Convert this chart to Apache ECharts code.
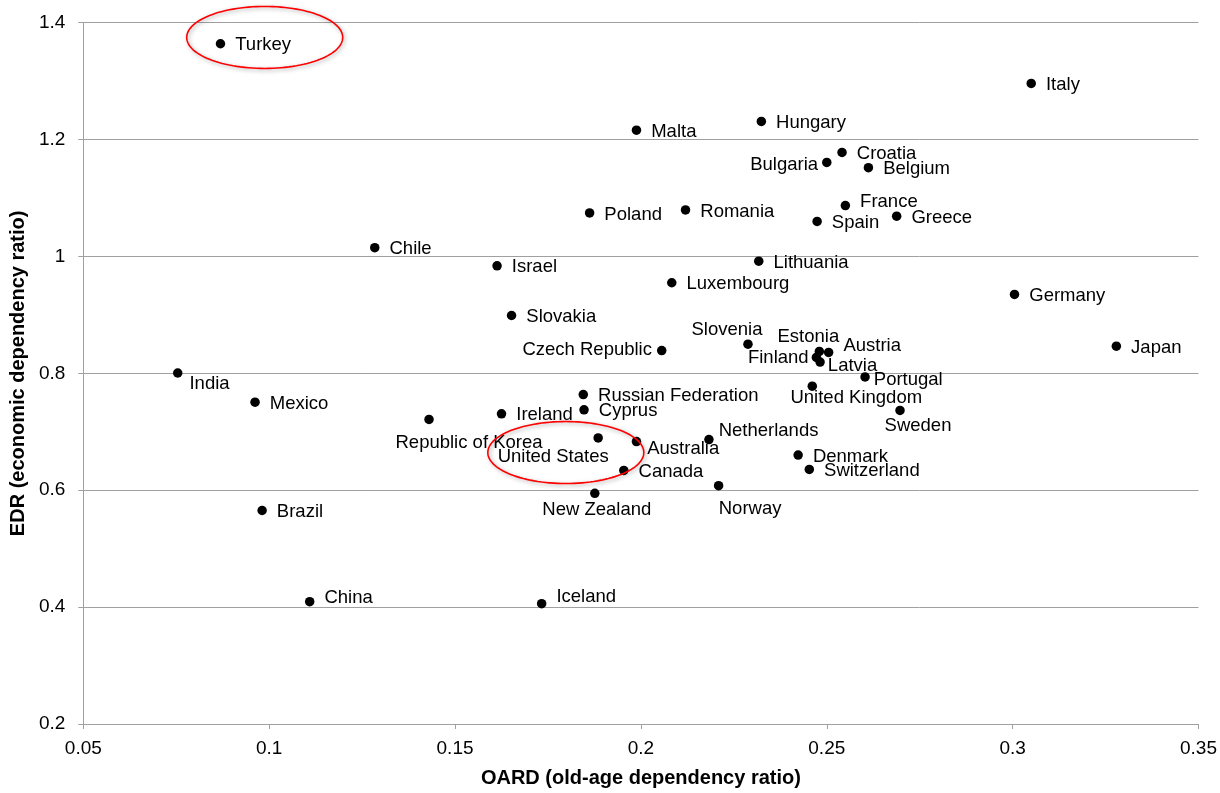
<!DOCTYPE html>
<html>
<head>
<meta charset="utf-8">
<script src="https://cdn.jsdelivr.net/npm/echarts@6/dist/echarts.min.js"></script>
<style>
html,body{margin:0;padding:0;background:#fff;overflow:hidden;width:1220px;height:793px;}
#chart{position:absolute;left:0;top:0;width:1220px;height:793px;}
</style>
</head>
<body>
<div id="chart"></div>
<script>
// ---- Data ----
const countries = ["Turkey","Italy","Malta","Hungary","Croatia","Bulgaria","Belgium","France","Spain","Greece",
  "Poland","Romania","Chile","Israel","Lithuania","Luxembourg","Germany","Slovakia","Czech Republic","Slovenia",
  "Estonia","Austria","Finland","Latvia","Japan","India","Portugal","United Kingdom","Sweden","Mexico",
  "Russian Federation","Cyprus","Ireland","Republic of Korea","United States","Australia","Netherlands","Canada",
  "New Zealand","Norway","Denmark","Switzerland","Brazil","China","Iceland"];
const oard = [0.0869,0.3050,0.1988,0.2324,0.2541,0.2500,0.2612,0.2550,0.2474,0.2688,
  0.1862,0.2120,0.1284,0.1613,0.2317,0.2083,0.3005,0.1652,0.2056,0.2288,
  0.2480,0.2505,0.2472,0.2482,0.3279,0.0754,0.2603,0.2461,0.2697,0.0962,
  0.1845,0.1847,0.1625,0.1430,0.1885,0.1988,0.2183,0.1954,
  0.1876,0.2209,0.2423,0.2453,0.0981,0.1109,0.1733];
const edr = [1.364,1.296,1.216,1.231,1.178,1.161,1.152,1.087,1.060,1.069,
  1.0745,1.0796,1.015,0.984,0.992,0.955,0.935,0.899,0.839,0.850,
  0.8375,0.8358,0.8273,0.8193,0.8465,0.8006,0.7938,0.7780,0.7365,0.7507,
  0.7637,0.7376,0.7308,0.7211,0.6895,0.6832,0.6866,0.6339,
  0.5947,0.6078,0.6602,0.6356,0.5653,0.4093,0.4059];
const xTicks = {min: 0.05, max: 0.35, interval: 0.05};
const yTicks = {min: 0.2, max: 1.4, interval: 0.2};
// Highlighted countries (red ellipses), centre given in data units
const highlights = [
  {name: "Turkey", cx: 0.0988, cy: 1.3748},
  {name: "United States", cx: 0.1798, cy: 0.6645}
];

// ---- Label placement (style only) ----
const FONT = "'Liberation Sans', Arial, sans-serif";
const SYMBOL = 9.5;
const labelPlacement = {
  "Bulgaria": ["left", 0, 3, 4],
  "Belgium": ["right", 0, 1.5, 10],
  "France": ["right", 0, -3.5, 10],
  "Greece": ["right", 0, 2, 10],
  "Austria": ["right", 0, -6.5, 10],
  "Latvia": ["right", 0, 3.5, 3],
  "Finland": ["left", 0, 0.5, 3],
  "Estonia": ["center", -11, -14.5],
  "Portugal": ["right", 0, 2.5, 4],
  "United Kingdom": ["center", 44, 11.5],
  "Sweden": ["center", 18, 15.5],
  "Netherlands": ["right", 0, -8.5, 5],
  "Slovenia": ["center", -21, -14],
  "Czech Republic": ["left", 0, -0.5, 5],
  "India": ["right", 0, 11, 7],
  "Republic of Korea": ["center", 40, 23.8],
  "United States": ["center", -45, 19],
  "Australia": ["right", 0, 6.8, 6],
  "New Zealand": ["center", 2, 16.8],
  "Norway": ["center", 31.5, 23.7],
  "China": ["right", 0, -3.5, 10],
  "Iceland": ["right", 0, -6.5, 10],
  "Denmark": ["right", 0, 2, 10]
};

const seriesData = countries.map(function (c, i) {
  const p = labelPlacement[c] || ["right", 0, 1.5, 10];
  let label;
  if (p[0] === "center") {
    label = {position: [SYMBOL / 2 + p[1], SYMBOL / 2 + p[2]], align: "center", verticalAlign: "middle"};
  } else {
    label = {position: p[0], offset: [p[1], p[2]], distance: p[3]};
  }
  return {name: c, value: [oard[i], edr[i]], label: label};
});

const chart = echarts.init(document.getElementById('chart'), null, {renderer: 'canvas', width: 1220, height: 793});
const axisGrey = '#a0a0a0';
chart.setOption({
  animation: false,
  backgroundColor: '#ffffff',
  grid: {left: 83, right: 21, top: 22.7, bottom: 65, containLabel: false},
  xAxis: {
    type: 'value', min: xTicks.min, max: xTicks.max, interval: xTicks.interval,
    name: 'OARD (old-age dependency ratio)', nameLocation: 'middle', nameGap: 44,
    nameTextStyle: {fontFamily: FONT, fontSize: 20, fontWeight: 'bold', color: '#000'},
    axisLine: {show: true, lineStyle: {color: axisGrey, width: 1}},
    axisTick: {show: true, length: 5, lineStyle: {color: axisGrey}},
    axisLabel: {fontFamily: FONT, fontSize: 19, color: '#000', margin: 15},
    splitLine: {show: false}
  },
  yAxis: {
    type: 'value', min: yTicks.min, max: yTicks.max, interval: yTicks.interval,
    name: 'EDR (economic dependency ratio)', nameLocation: 'middle', nameGap: 44,
    nameTextStyle: {fontFamily: FONT, fontSize: 20, fontWeight: 'bold', color: '#000'},
    axisLine: {show: true, lineStyle: {color: axisGrey, width: 1}},
    axisTick: {show: true, length: 5, lineStyle: {color: axisGrey}},
    axisLabel: {fontFamily: FONT, fontSize: 19, color: '#000', margin: 18},
    splitLine: {show: true, lineStyle: {color: axisGrey, width: 1}}
  },
  series: [{
    type: 'scatter',
    symbol: 'circle',
    symbolSize: SYMBOL,
    itemStyle: {color: '#000', opacity: 1},
    label: {show: true, formatter: '{b}', fontFamily: FONT, fontSize: 18.5, color: '#000'},
    emphasis: {disabled: true},
    data: seriesData,
    z: 3
  }]
});

// Red ellipses around highlighted countries, positioned through the axes
function ellipsePoints(cx, cy, rx, ry) {
  const pts = [];
  for (let k = 0; k < 120; k++) {
    const t = k / 120 * Math.PI * 2;
    pts.push([cx + rx * Math.cos(t), cy + ry * Math.sin(t)]);
  }
  return pts;
}
const graphics = highlights.map(function (h) {
  const c = chart.convertToPixel({gridIndex: 0}, [h.cx, h.cy]);
  return {
    type: 'polygon', z: 10, silent: true,
    shape: {points: ellipsePoints(c[0], c[1], 78, 31)},
    style: {fill: 'none', stroke: '#ff0000', lineWidth: 1.6,
      shadowBlur: 4, shadowColor: 'rgba(0,0,0,0.35)', shadowOffsetX: 1.5, shadowOffsetY: 1.5}
  };
});
chart.setOption({graphic: graphics});
</script>
</body>
</html>
